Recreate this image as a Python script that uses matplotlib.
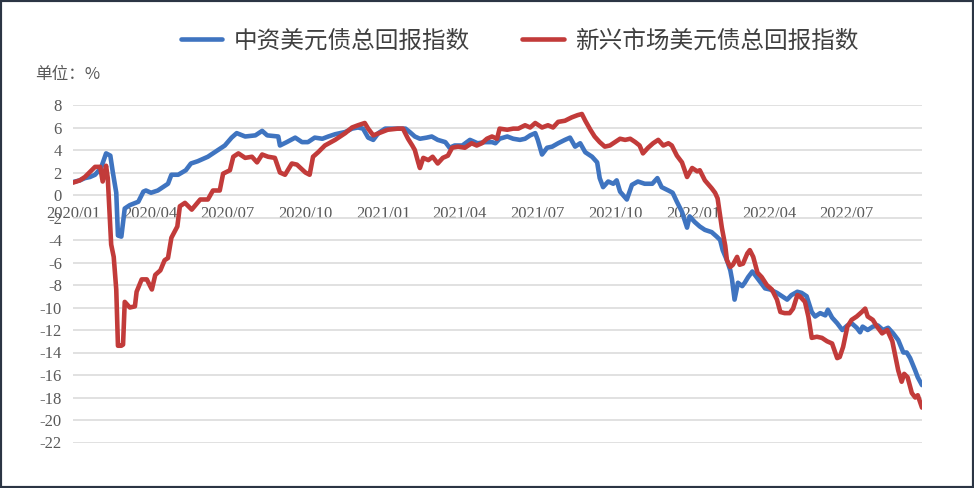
import matplotlib
matplotlib.use("Agg")
import matplotlib.pyplot as plt
from matplotlib.patches import Rectangle
import pandas as pd

plt.rcParams['axes.unicode_minus'] = False
plt.rcParams['font.family'] = ['Liberation Serif', 'DejaVu Serif']

# ---- data (days since 2020-01-01, value in %) ----
start_date = "2020-01-01"
end_day = 1001

blue_name = "中资美元债总回报指数"
blue_days = [0, 8, 14, 20, 26, 33, 39, 44, 47, 51, 53, 57, 61, 67, 77, 83, 86, 92, 100, 112,
             116, 124, 133, 139, 147, 159, 167, 179, 187, 193, 203, 215, 223, 229, 242, 244, 252, 262, 270, 277,
             285, 294, 301, 309, 321, 329, 336, 342, 348, 354, 360, 368, 380, 392, 397, 403, 409, 417, 423, 430,
             439, 444, 450, 459, 468, 477, 486, 494, 498, 503, 512, 519, 527, 533, 539, 545, 548, 553, 559, 565,
             572, 580, 586, 592, 598, 604, 612, 618, 621, 625, 631, 637, 641, 645, 653, 659, 666, 674, 683, 689,
             694, 702, 707, 712, 718, 724, 727, 733, 739, 745, 753, 759, 763, 766, 771, 775, 777, 780, 784, 789,
             792, 796, 801, 804, 810, 816, 822, 830, 836, 842, 847, 854, 859, 865, 871, 875, 881, 887, 890, 895,
             901, 907, 913, 918, 924, 928, 931, 937, 943, 949, 955, 961, 967, 973, 979, 983, 987, 993, 996, 1001]
blue_vals = [1.15, 1.3, 1.5, 1.6, 1.8, 2.4, 3.7, 3.5, 2.0, 0.2, -3.6, -3.7, -1.2, -0.9, -0.6, 0.3, 0.4, 0.2, 0.4, 1.0,
             1.8, 1.8, 2.2, 2.8, 3.0, 3.4, 3.8, 4.4, 5.1, 5.5, 5.2, 5.3, 5.7, 5.3, 5.2, 4.4, 4.7, 5.1, 4.7, 4.7,
             5.1, 5.0, 5.2, 5.4, 5.6, 5.9, 6.0, 5.9, 5.1, 4.9, 5.5, 5.9, 5.9, 5.9, 5.6, 5.2, 5.0, 5.1, 5.2, 4.9,
             4.7, 4.2, 4.4, 4.4, 4.9, 4.6, 4.7, 4.7, 4.6, 5.0, 5.2, 5.0, 4.9, 5.0, 5.3, 5.5, 4.9, 3.6, 4.2, 4.3,
             4.6, 4.9, 5.1, 4.3, 4.6, 3.8, 3.4, 2.9, 1.5, 0.7, 1.2, 1.0, 1.3, 0.3, -0.4, 0.9, 1.2, 1.0, 1.0, 1.5,
             0.7, 0.4, 0.2, -0.6, -1.5, -2.9, -1.9, -2.4, -2.8, -3.1, -3.3, -3.7, -4.0, -4.9, -5.8, -6.7, -7.5, -9.3, -7.8, -8.1,
             -7.8, -7.3, -6.8, -7.1, -7.7, -8.3, -8.4, -8.7, -9.0, -9.3, -8.9, -8.6, -8.7, -9.0, -10.4, -10.8, -10.5, -10.7, -10.2, -10.9,
             -11.4, -12.0, -11.6, -11.4, -11.8, -12.2, -11.7, -12.0, -11.7, -11.6, -12.0, -11.8, -12.3, -12.9, -14.0, -14.0, -14.5, -15.6, -16.2, -16.9]

red_name = "新兴市场美元债总回报指数"
red_days = [0, 8, 14, 26, 32, 35, 39, 41, 45, 48, 51, 53, 57, 59, 61, 67, 73, 75, 81, 87,
            93, 97, 103, 108, 112, 116, 123, 126, 132, 140, 150, 159, 165, 173, 177, 185, 189, 195, 203, 211,
            217, 223, 230, 238, 244, 250, 258, 264, 274, 279, 283, 289, 297, 309, 321, 329, 336, 344, 348, 354,
            364, 371, 383, 389, 395, 400, 403, 407, 409, 413, 419, 424, 430, 436, 442, 447, 454, 462, 470, 476,
            482, 488, 494, 500, 503, 512, 519, 525, 533, 539, 545, 553, 560, 566, 572, 580, 588, 595, 600, 604,
            610, 615, 621, 627, 633, 639, 645, 651, 657, 663, 668, 672, 678, 684, 690, 696, 702, 706, 712, 718,
            724, 730, 736, 739, 745, 753, 757, 760, 765, 769, 771, 775, 778, 783, 786, 790, 795, 798, 802, 807,
            812, 818, 824, 830, 834, 839, 845, 849, 854, 857, 863, 867, 871, 877, 883, 889, 895, 901, 904, 908,
            913, 918, 924, 930, 934, 937, 943, 948, 954, 960, 966, 969, 973, 977, 980, 984, 989, 993, 996, 1001]
red_vals = [1.1, 1.3, 1.6, 2.5, 2.5, 1.2, 2.6, 1.5, -4.4, -5.5, -8.4, -13.4, -13.4, -13.3, -9.5, -10.0, -9.9, -8.6, -7.5, -7.5,
            -8.4, -7.1, -6.7, -5.8, -5.6, -3.8, -2.8, -1.0, -0.7, -1.3, -0.4, -0.4, 0.4, 0.4, 1.9, 2.2, 3.4, 3.7, 3.3, 3.4,
            2.9, 3.6, 3.4, 3.3, 2.0, 1.8, 2.8, 2.7, 2.0, 1.8, 3.4, 3.8, 4.4, 4.9, 5.5, 6.0, 6.2, 6.4, 5.9, 5.3,
            5.6, 5.8, 5.9, 5.9, 5.0, 4.4, 4.0, 2.9, 2.4, 3.3, 3.1, 3.4, 2.8, 3.3, 3.5, 4.2, 4.3, 4.2, 4.6, 4.4,
            4.6, 5.0, 5.2, 5.0, 5.9, 5.8, 5.9, 5.9, 6.2, 6.0, 6.4, 6.0, 6.2, 6.0, 6.5, 6.6, 6.9, 7.1, 7.2, 6.6,
            5.8, 5.2, 4.7, 4.3, 4.4, 4.7, 5.0, 4.9, 5.0, 4.7, 4.4, 3.7, 4.2, 4.6, 4.9, 4.4, 4.6, 4.4, 3.5, 2.9,
            1.6, 2.4, 2.1, 2.2, 1.3, 0.6, 0.2, -0.3, -2.9, -4.5, -5.8, -6.4, -6.2, -5.5, -6.2, -6.1, -5.2, -4.9, -5.5, -6.9,
            -7.3, -8.0, -8.4, -9.3, -10.4, -10.5, -10.5, -10.1, -8.9, -9.0, -9.5, -10.8, -12.7, -12.6, -12.7, -13.0, -13.2, -14.5, -14.4, -13.5,
            -11.7, -11.1, -10.8, -10.4, -10.1, -10.8, -11.1, -11.7, -12.3, -12.0, -13.0, -14.1, -15.6, -16.6, -15.9, -16.2, -17.6, -18.0, -17.8, -18.9]

y_ticks = list(range(8, -23, -2))
x_tick_dates = ["2020-01-01", "2020-04-01", "2020-07-01", "2020-10-01", "2021-01-01", "2021-04-01",
                "2021-07-01", "2021-10-01", "2022-01-01", "2022-04-01", "2022-07-01"]
x_tick_labels = ["2020/01", "2020/04", "2020/07", "2020/10", "2021/01", "2021/04",
                 "2021/07", "2021/10", "2022/01", "2022/04", "2022/07"]
unit_label = "单位：%"

assert len(blue_days) == len(blue_vals)
assert len(red_days) == len(red_vals)

t0 = pd.Timestamp(start_date)
blue_dates = t0 + pd.to_timedelta(blue_days, unit="D")
red_dates = t0 + pd.to_timedelta(red_days, unit="D")

# ---- figure ----
W, H = 974, 488
fig = plt.figure(figsize=(W / 100, H / 100), dpi=100)
fig.patch.set_facecolor("white")

left, right, top, bottom = 73, 922, 105, 442.5
ax = fig.add_axes([left / W, 1 - bottom / H, (right - left) / W, (bottom - top) / H])

cjk = ["Noto Sans CJK SC", "DejaVu Sans"]

ax.plot(blue_dates, blue_vals, color="#3F74C0", lw=3.3, solid_joinstyle="round",
        solid_capstyle="round", label=blue_name, zorder=3)
ax.plot(red_dates, red_vals, color="#C23B3A", lw=3.3, solid_joinstyle="round",
        solid_capstyle="round", label=red_name, zorder=4)

ax.set_ylim(-22, 8)
ax.set_xlim(t0, t0 + pd.Timedelta(days=end_day))
ax.set_yticks(y_ticks)
ax.set_yticklabels([str(v) for v in y_ticks])
ax.yaxis.grid(True, color="#D9D9D9", lw=1.1)
ax.set_axisbelow(True)

ax.set_xticks([pd.Timestamp(d) for d in x_tick_dates])
ax.set_xticklabels(x_tick_labels)
ax.spines["bottom"].set_position(("data", 0))
for s in ["top", "right", "left", "bottom"]:
    ax.spines[s].set_visible(False)
ax.tick_params(axis="x", length=0, pad=8, labelsize=12, labelcolor="#595959")
ax.tick_params(axis="y", length=0, pad=8, labelsize=12, labelcolor="#595959")
ax.set_facecolor("none")

fig.text(35 / W, 1 - 75 / H, unit_label, fontfamily=cjk, fontsize=12, color="#595959",
         ha="left", va="center")

handles, labels = ax.get_legend_handles_labels()
leg = fig.legend(handles, labels, loc="center", bbox_to_anchor=(520 / W, 1 - 41 / H), ncol=2,
                 frameon=False, handlelength=1.75, handletextpad=0.5, columnspacing=2.2,
                 prop={"family": cjk, "size": 17})
for t in leg.get_texts():
    t.set_color("#404040")

fig.patches.append(Rectangle((0, 0), 1, 1, transform=fig.transFigure, fill=False,
                             edgecolor="#2B3544", lw=3.0, zorder=10))

fig.savefig("out.png", dpi=100, facecolor="white")
